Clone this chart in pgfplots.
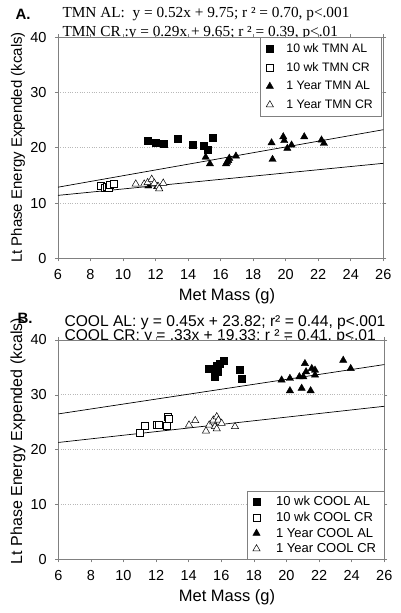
\documentclass[border=0pt]{standalone}
\usepackage{fontspec}
\setmainfont{Liberation Sans}
\newfontfamily\seriffam{Liberation Serif}
\usepackage{pgfplots}
\pgfplotsset{compat=1.18}
\definecolor{framec}{gray}{0.5}
\definecolor{gridc}{gray}{0.72}
\pgfplotsset{
 panel/.style={
  scale only axis,
  xmin=6,xmax=26,ymin=0,ymax=40,
  xtick={6,8,...,26}, ytick={0,10,...,40},
  axis line style={draw=framec, line width=0.8pt},
  tick style={draw=framec, line width=0.6pt},
  tick align=outside, major tick length=3pt,
  ymajorgrids, grid style={dotted, gridc, line width=0.9pt},
  /pgf/number format/assume math mode=true,
  tick label style={font=\fontsize{14.5}{17}\selectfont},
  xticklabel style={yshift=-5pt},
  yticklabel style={xshift=-5pt},
  axis background/.style={fill=white},
  legend cell align=left,
 },
 sqf/.style={only marks, mark=square*, mark size=3.5pt, mark options={fill=black, draw=black}},
 sqo/.style={only marks, mark=square*, mark size=3.5pt, mark options={fill=white, draw=black, line width=0.5pt}},
 trf/.style={only marks, mark=triangle*, mark size=4.2pt, mark options={fill=black, draw=black}},
 tro/.style={only marks, mark=triangle*, mark size=4.2pt, mark options={fill=white, draw=black, line width=0.5pt}},
 regl/.style={black, line width=0.7pt, forget plot},
}
\begin{document}
\begin{tikzpicture}
\useasboundingbox (0,0) rectangle (400pt,613pt);
% ---------- panel A texts ----------
\node[anchor=base west, font=\bfseries\fontsize{15}{18}\selectfont] at (12pt,593pt) {A.};
\node[anchor=base west, font=\seriffam\fontsize{15.3}{18}\selectfont] at (59pt,595.7pt) {TMN AL:\ \ y = 0.52x + 9.75; r ² = 0.70, p<.001};
\node[anchor=base west, font=\seriffam\fontsize{15.3}{18}\selectfont] at (59pt,576.3pt) {TMN CR :y = 0.29x + 9.65; r ² = 0.39, p<.01};
% ---------- panel B texts ----------
\node[anchor=base west, font=\bfseries\fontsize{15}{18}\selectfont] at (14pt,289pt) {B.};
\node[anchor=base west, font=\fontsize{15.6}{18}\selectfont] at (61pt,286.8pt) {COOL AL: y = 0.45x + 23.82; r² = 0.44, p<.001};
\node[anchor=base west, font=\fontsize{15.6}{18}\selectfont] at (61pt,272.3pt) {COOL CR: y = .33x + 19.33; r ² = 0.41, p<.01};

% ---------- panel A ----------
\begin{axis}[panel, at={(58pt,354.7pt)}, anchor=south west, width=325.3pt, height=221pt,
  legend style={at={(0.993,1)}, anchor=north east, draw=framec, fill=white,
    font=\fontsize{12.3}{14}\selectfont, row sep=4.5pt, inner xsep=6pt, inner ysep=4pt,
    /tikz/every odd column/.append style={column sep=11pt}}]
\addplot[sqf] coordinates {(11.51,21.2) (12.0,20.9) (12.48,20.8) (13.36,21.7) (14.26,20.6) (14.97,20.3) (15.18,19.7) (15.51,21.9)};
\addlegendentry{10 wk TMN AL}
\addplot[sqo] coordinates {(8.65,13.1) (8.85,12.7) (9.0,13.0) (9.15,12.8) (9.2,13.3) (9.45,13.5)};
\addlegendentry{10 wk TMN CR}
\addplot[trf] coordinates {(11.55,13.1) (12.1,13.0) (15.08,18.3) (15.34,17.1) (16.33,17.1) (16.4,17.4) (16.47,17.7) (16.53,18.1) (16.94,18.5) (19.13,20.9) (19.19,17.9) (19.85,22.0) (19.91,21.3) (20.1,19.9) (20.36,20.5) (21.14,22.0) (22.2,21.4) (22.35,20.8)};
\addlegendentry{1 Year TMN AL}
\addplot[tro] coordinates {(10.78,13.45) (11.3,13.45) (11.51,13.7) (11.76,14.3) (11.92,13.6) (12.16,13.0) (12.22,12.6) (12.47,13.6)};
\addlegendentry{1 Year TMN CR}
\addplot[regl] coordinates {(6,12.87) (26,23.27)};
\addplot[regl] coordinates {(6,11.39) (26,17.19)};
\end{axis}

% ---------- panel B ----------
\begin{axis}[panel, at={(58.3pt,53.7pt)}, anchor=south west, width=326pt, height=219.3pt,
  legend style={at={(1,0)}, anchor=south east, draw=framec, fill=white,
    font=\fontsize{13}{15}\selectfont, row sep=1pt, inner xsep=6pt, inner ysep=3pt,
    /tikz/every odd column/.append style={column sep=14pt}}]
\addplot[sqf] coordinates {(15.2,34.8) (15.51,34.8) (15.61,33.3) (15.72,35.4) (15.8,34.2) (15.88,35.7) (16.12,36.2) (17.1,34.5) (17.25,33.0)};
\addlegendentry{10 wk COOL AL}
\addplot[sqo] coordinates {(11.01,23.0) (11.32,24.4) (12.04,24.6) (12.14,24.5) (12.65,24.4) (12.71,26.0) (12.75,25.7)};
\addlegendentry{10 wk COOL CR}
\addplot[trf] coordinates {(19.7,32.7) (20.21,33.0) (20.21,30.75) (20.79,33.3) (20.93,31.2) (21.03,33.3) (21.13,35.7) (21.2,34.2) (21.48,30.75) (21.55,34.8) (21.75,34.5) (21.75,33.6) (23.48,36.3) (23.94,34.8)};
\addlegendentry{1 Year COOL AL}
\addplot[tro] coordinates {(14.02,24.5) (14.4,25.3) (15.06,23.4) (15.26,24.5) (15.51,25.1) (15.51,25.4) (15.61,24.2) (15.72,23.8) (15.72,26.0) (15.82,25.4) (16.02,24.8) (16.84,24.2)};
\addlegendentry{1 Year COOL CR}
\addplot[regl] coordinates {(6,26.52) (26,35.52)};
\addplot[regl] coordinates {(6,21.31) (26,27.91)};
\end{axis}

% ---------- axis labels ----------
\node[rotate=90, font=\fontsize{15}{18}\selectfont] at (18pt,465.5pt) {Lt Phase Energy Expended (kcals)};
\node[rotate=90, font=\fontsize{16}{18}\selectfont] at (18pt,172pt) {Lt Phase Energy Expended (kcals)};
\node[anchor=base, font=\fontsize{16.5}{18}\selectfont] at (227pt,312pt) {Met Mass (g)};
\node[anchor=base, font=\fontsize{16.5}{18}\selectfont] at (227pt,11.3pt) {Met Mass (g)};
\end{tikzpicture}
\end{document}
